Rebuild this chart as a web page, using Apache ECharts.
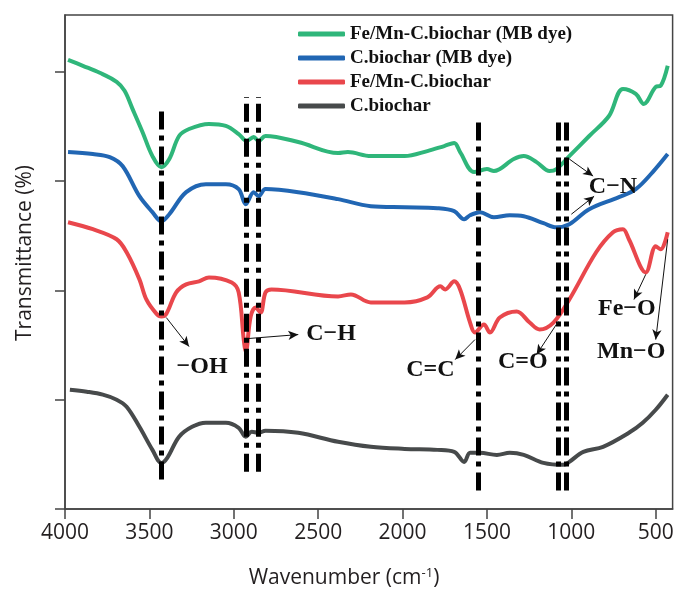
<!DOCTYPE html>
<html>
<head>
<meta charset="utf-8">
<script src="https://cdn.jsdelivr.net/npm/echarts@6/dist/echarts.min.js"></script>
<style>
  html, body { margin: 0; padding: 0; background: #fff; }
  #chart { width: 679px; height: 593px; }
</style>
</head>
<body>
<div id="chart"></div>
<script>
// FTIR spectra, [wavenumber, offset transmittance]
var seriesNames = ['Fe/Mn-C.biochar (MB dye)', 'C.biochar (MB dye)', 'Fe/Mn-C.biochar', 'C.biochar'];
var seriesColors = ['#2fb67a', '#2166b3', '#e9474c', '#474a4b'];

var feMnDye = [
  [3982, 4.11], [3894, 4.055], [3794, 3.991], [3694, 3.908], [3647, 3.826], [3600, 3.661],
  [3541, 3.45], [3482, 3.229], [3429, 3.128], [3382, 3.202], [3324, 3.413], [3265, 3.477],
  [3147, 3.523], [3047, 3.505], [2971, 3.431], [2924, 3.367], [2882, 3.404], [2853, 3.367],
  [2812, 3.413], [2618, 3.358], [2382, 3.257], [2324, 3.266], [2188, 3.229], [1988, 3.229],
  [1853, 3.275], [1753, 3.321], [1694, 3.349], [1659, 3.266], [1576, 3.083], [1500, 3.11],
  [1459, 3.092], [1341, 3.202], [1282, 3.229], [1206, 3.174], [1129, 3.092], [1088, 3.11],
  [1012, 3.229], [894, 3.413], [777, 3.596], [694, 3.844], [618, 3.798], [571, 3.706],
  [500, 3.862], [471, 3.872], [429, 4.055]
];
var cDye = [
  [3982, 3.266], [3835, 3.248], [3735, 3.22], [3659, 3.138], [3559, 2.862], [3482, 2.716],
  [3429, 2.633], [3382, 2.697], [3282, 2.899], [3165, 2.972], [3047, 2.972], [2971, 2.927],
  [2929, 2.789], [2882, 2.899], [2853, 2.862], [2812, 2.927], [2618, 2.899], [2382, 2.835],
  [2188, 2.771], [1988, 2.761], [1794, 2.752], [1694, 2.725], [1635, 2.651], [1600, 2.688],
  [1541, 2.716], [1459, 2.67], [1365, 2.688], [1282, 2.679], [1165, 2.615], [1088, 2.578],
  [1012, 2.606], [894, 2.743], [718, 2.853], [618, 2.927], [518, 3.083], [429, 3.248]
];
var feMn = [
  [3982, 2.624], [3835, 2.56], [3694, 2.468], [3635, 2.349], [3559, 2.101], [3518, 1.917],
  [3460, 1.79], [3429, 1.761], [3400, 1.785], [3341, 1.982], [3282, 2.055], [3206, 2.083],
  [3147, 2.119], [3012, 2.073], [2971, 1.982], [2941, 1.55], [2929, 1.44], [2900, 1.761],
  [2871, 1.844], [2841, 1.798], [2812, 1.982], [2776, 2.009], [2382, 1.945], [2306, 1.963],
  [2188, 1.89], [1988, 1.89], [1853, 1.936], [1776, 2.037], [1747, 2.009], [1694, 2.083],
  [1659, 2.009], [1600, 1.706], [1571, 1.615], [1518, 1.688], [1482, 1.615], [1424, 1.752],
  [1324, 1.807], [1247, 1.706], [1188, 1.642], [1106, 1.706], [1012, 1.917], [853, 2.349],
  [753, 2.532], [694, 2.56], [659, 2.468], [559, 2.165], [500, 2.404], [471, 2.376], [429, 2.532]
];
var cBio = [
  [3971, 1.092], [3871, 1.073], [3776, 1.046], [3694, 1.0], [3635, 0.936], [3559, 0.752],
  [3482, 0.541], [3429, 0.422], [3394, 0.468], [3324, 0.661], [3247, 0.752], [3165, 0.789],
  [3047, 0.789], [2971, 0.743], [2929, 0.661], [2894, 0.706], [2853, 0.697], [2812, 0.716],
  [2618, 0.697], [2382, 0.615], [2188, 0.569], [1988, 0.55], [1794, 0.541], [1694, 0.523],
  [1635, 0.431], [1600, 0.514], [1541, 0.514], [1441, 0.495], [1365, 0.514], [1282, 0.495],
  [1165, 0.422], [1047, 0.404], [1012, 0.431], [929, 0.523], [812, 0.569], [659, 0.697],
  [577, 0.789], [500, 0.908], [429, 1.046]
];

var xTicks = [500, 1000, 1500, 2000, 2500, 3000, 3500, 4000];
var yTicks = [0, 1, 2, 3, 4];

// dash-dot guide lines: [wavenumber, bottom, top]
var guideLines = [
  [3429, 0.27, 3.68], [2929, 0.34, 3.77], [2853, 0.34, 3.77],
  [1553, 0.17, 3.59], [1077, 0.17, 3.55], [1030, 0.17, 3.55]
];
// band labels: [text, wavenumber, y]
var bandLabels = [
  ['\u2212OH', 3188, 1.30], ['C\u2212H', 2424, 1.60], ['C=C', 1835, 1.27],
  ['C=O', 1288, 1.35], ['Fe\u2212O', 671, 1.83], ['Mn\u2212O', 645, 1.44], ['C\u2212N', 753, 2.945]
];
// arrows: [fromX, fromY, toX, toY]
var arrows = [
  [3400, 1.752, 3265, 1.486], [2912, 1.56, 2618, 1.596], [1571, 1.55, 1688, 1.367],
  [1077, 1.716, 1206, 1.413], [559, 2.147, 629, 1.917], [429, 2.468, 500, 1.55],
  [1012, 3.202, 871, 3.046], [1000, 2.697, 865, 2.862]
];

var chart = echarts.init(document.getElementById('chart'), null, { renderer: 'canvas' });

var curves = [feMnDye, cDye, feMn, cBio];
var series = curves.map(function (d, i) {
  return {
    name: seriesNames[i],
    type: 'line',
    data: d,
    smooth: 0.35,
    showSymbol: false,
    color: seriesColors[i],
    lineStyle: { width: 4, color: seriesColors[i] },
    z: 2
  };
});

series.push({
  name: 'guides',
  type: 'line',
  data: [],
  z: 5,
  markLine: {
    silent: true,
    symbol: ['none', 'none'],
    animation: false,
    label: { show: false },
    lineStyle: { color: '#000', width: 5, type: [18, 6, 5, 6], cap: 'butt' },
    data: guideLines.map(function (g) {
      return [{ coord: [g[0], g[1]] }, { coord: [g[0], g[2]] }];
    })
  }
});

series.push({
  name: 'arrows',
  type: 'line',
  data: [],
  z: 6,
  markLine: {
    silent: true,
    symbol: ['none', 'arrow'],
    symbolSize: [7, 10],
    animation: false,
    label: { show: false },
    lineStyle: { color: '#111', width: 1, type: 'solid' },
    data: arrows.map(function (a) {
      return [{ coord: [a[0], a[1]] }, { coord: [a[2], a[3]] }];
    })
  },
  markPoint: {
    silent: true,
    symbol: 'circle',
    symbolSize: 0,
    animation: false,
    label: {
      show: true,
      position: 'inside',
      formatter: '{b}',
      color: '#111',
      fontFamily: 'Liberation Serif',
      fontWeight: 'bold',
      fontSize: 24
    },
    data: bandLabels.map(function (b) {
      return { name: b[0], coord: [b[1], b[2]] };
    })
  }
});

var option = {
  animation: false,
  backgroundColor: '#fff',
  grid: {
    left: 65, right: 4, top: 15, bottom: 84,
    show: true, borderColor: '#444', borderWidth: 1.5
  },
  legend: {
    data: seriesNames,
    orient: 'vertical',
    left: 293,
    top: 19,
    icon: 'roundRect',
    itemWidth: 47,
    itemHeight: 5,
    itemGap: 4,
    textStyle: {
      fontFamily: 'Liberation Serif',
      fontWeight: 'bold',
      fontSize: 19,
      lineHeight: 20,
      color: '#111'
    }
  },
  xAxis: {
    type: 'value',
    inverse: true,
    min: 400,
    max: 4000,
    axisLine: { lineStyle: { color: '#444', width: 1.5 } },
    axisTick: { show: true, inside: false, length: 10, customValues: xTicks, lineStyle: { color: '#444', width: 1.5 } },
    axisLabel: {
      customValues: xTicks,
      formatter: function (v) { return String(v); },
      margin: 14,
      fontFamily: 'Open Sans',
      fontSize: 21,
      color: '#231f20'
    },
    splitLine: { show: false }
  },
  yAxis: {
    type: 'value',
    min: 0,
    max: 4.52,
    axisLine: { show: true, lineStyle: { color: '#444', width: 1.5 } },
    axisTick: { show: true, inside: false, length: 10, customValues: yTicks, lineStyle: { color: '#444', width: 1.5 } },
    axisLabel: { show: false },
    splitLine: { show: false }
  },
  graphic: [
    {
      type: 'text',
      x: 344, y: 578,
      style: {
        text: 'Wavenumber (cm{sup|-1})',
        rich: { sup: { fontSize: 13, fontFamily: 'Open Sans', fill: '#231f20', verticalAlign: 'top', padding: [0, 0, 10, 0] } },
        font: '21px "Open Sans"',
        fill: '#231f20',
        align: 'center',
        verticalAlign: 'middle'
      }
    },
    {
      type: 'text',
      x: 25, y: 253,
      rotation: Math.PI / 2,
      style: {
        text: 'Transmittance (%)',
        font: '21px "Open Sans"',
        fill: '#231f20',
        align: 'center',
        verticalAlign: 'middle'
      }
    }
  ],
  series: series
};

chart.setOption(option);
</script>
</body>
</html>
